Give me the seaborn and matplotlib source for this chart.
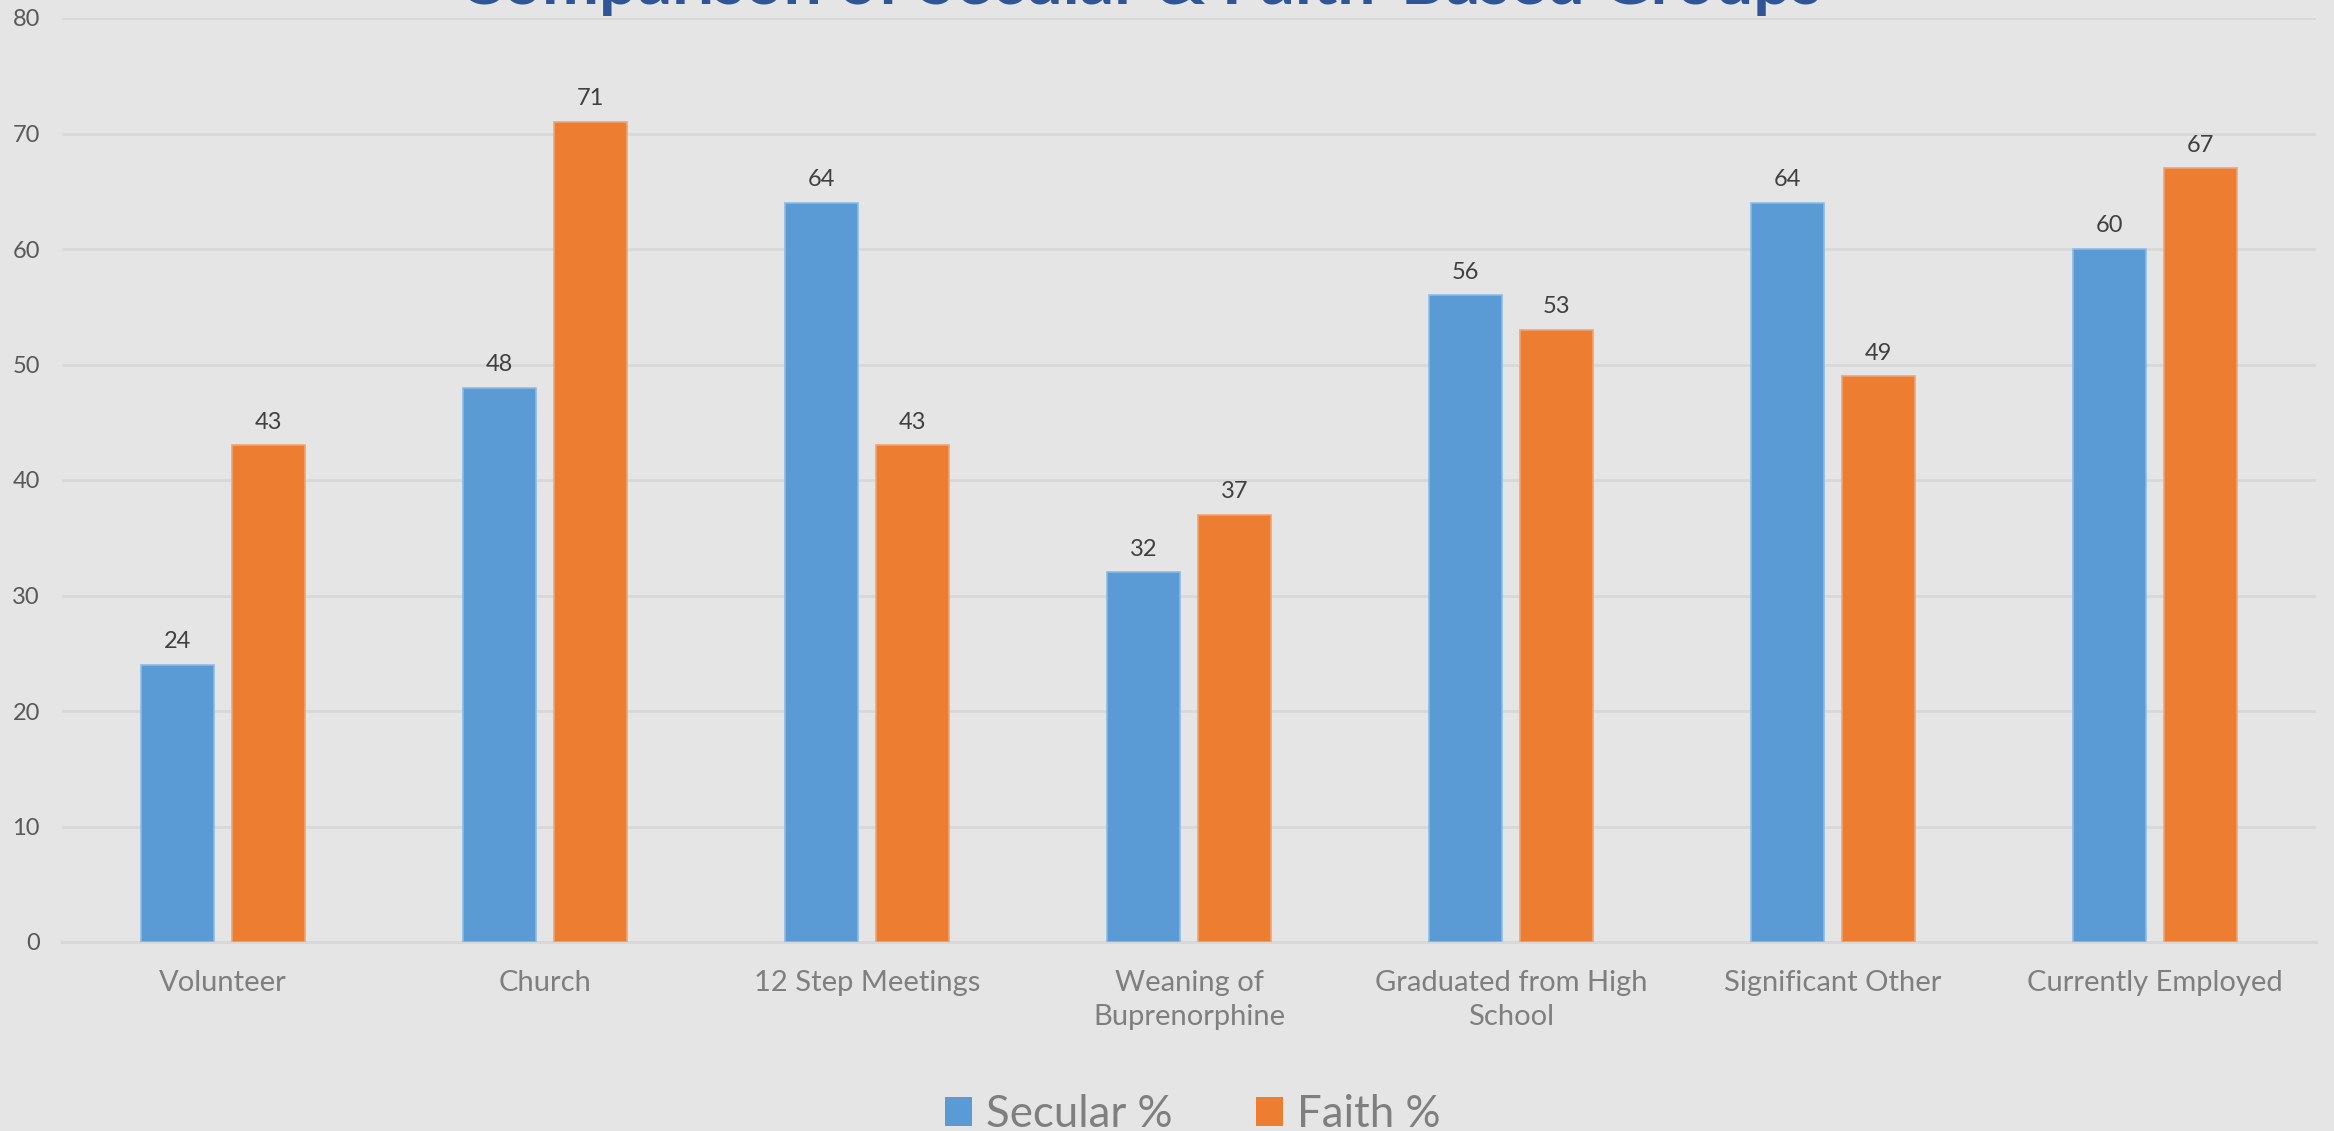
import matplotlib
matplotlib.use("Agg")
import matplotlib.pyplot as plt
import seaborn as sns
import pandas as pd
from matplotlib.patches import Patch

categories = ["Volunteer", "Church", "12 Step Meetings", "Weaning of\nBuprenorphine",
              "Graduated from High\nSchool", "Significant Other", "Currently Employed"]
secular = [24, 48, 64, 32, 56, 64, 60]
faith = [43, 71, 43, 37, 53, 49, 67]
series_names = ["Secular %", "Faith %"]
title = "Comparison of Secular & Faith-Based Groups"
yticks = [0, 10, 20, 30, 40, 50, 60, 70, 80]

BLUE = "#5B9BD5"
ORANGE = "#ED7D31"
BG = "#E5E5E5"
GRID = "#D8D8D8"

sns.set_style("white")
plt.rcParams["font.family"] = ["Lato", "DejaVu Sans"]

df = pd.DataFrame({
    "Category": categories * 2,
    "Value": secular + faith,
    "Series": [series_names[0]] * len(categories) + [series_names[1]] * len(categories),
})

W, H = 2334, 1131
fig = plt.figure(figsize=(W / 100, H / 100), dpi=100, facecolor=BG)
ax = fig.add_axes([62 / W, (H - 942) / H, (2316 - 62) / W, (942 - 18) / H])
ax.set_facecolor(BG)

sns.barplot(data=df, x="Category", y="Value", hue="Series", order=categories,
            hue_order=series_names, palette=[BLUE, ORANGE], width=0.565, gap=0.207,
            saturation=1, ax=ax, legend=False, linewidth=1.2, err_kws={"linewidth": 0})

for cont, ec in zip(ax.containers, ["#8DBBE5", "#F3A36F"]):
    for p in cont:
        p.set_edgecolor(ec)
        p.set_zorder(3)
    ax.bar_label(cont, padding=9, fontsize=17, color="#404040", zorder=4)

ax.set_ylim(0, 80)
ax.set_xlim(-0.5, len(categories) - 0.5)
ax.set_yticks(yticks)
ax.yaxis.grid(True, color=GRID, linewidth=2, zorder=0)
ax.set_axisbelow(True)
for s in ["top", "right", "left"]:
    ax.spines[s].set_visible(False)
ax.spines["bottom"].set_color(GRID)
ax.spines["bottom"].set_linewidth(2.2)
ax.tick_params(axis="y", length=0, pad=16, labelsize=17, labelcolor="#595959")
ax.tick_params(axis="x", length=0, pad=20, labelsize=21, labelcolor="#7F7F7F")
for lbl in ax.get_xticklabels():
    lbl.set_linespacing(1.4)
ax.set_xlabel("")
ax.set_ylabel("")

fig.text(1140 / W, 1 - 4 / H, title, ha="center", va="baseline", fontsize=49,
         fontweight="bold", color="#2F5597")

handles = [Patch(facecolor=BLUE, edgecolor="none"), Patch(facecolor=ORANGE, edgecolor="none")]
leg = fig.legend(handles, series_names, loc="lower center", bbox_to_anchor=(1193 / W, -4 / H),
                 ncol=2, frameon=False, fontsize=31.5, handlelength=0.62, handleheight=0.62,
                 handletextpad=0.32, columnspacing=1.9, borderpad=0, borderaxespad=0)
for t in leg.get_texts():
    t.set_color("#7F7F7F")

fig.savefig("out.png", dpi=100, facecolor=BG)
